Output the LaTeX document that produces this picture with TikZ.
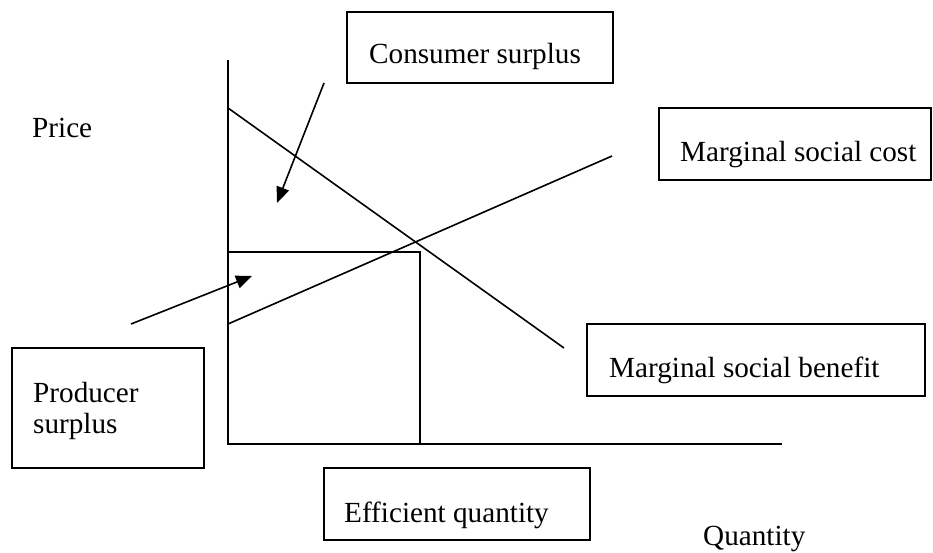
\documentclass[tikz,border=0pt]{standalone}
\usepackage{fontspec}
\setmainfont{Liberation Serif}
\usetikzlibrary{arrows.meta}
\begin{document}
\begin{tikzpicture}[x=1pt,y=-1pt,
  lbl/.style={font=\fontsize{29.2pt}{32pt}\selectfont, inner sep=0pt, anchor=base west},
  boxframe/.style={draw, line width=1.6pt},
  ln/.style={line width=1.6pt},
  arr/.style={line width=1.6pt, -{Triangle[length=16pt,width=13pt]}}]
\useasboundingbox (0,0) rectangle (933,553);

% axes
\coordinate (ytop) at (228,60);
\coordinate (orig) at (228,444);
\coordinate (xend) at (782,444);
\draw[ln] (ytop) -- (orig) -- (xend);

% curves
\coordinate (msb1) at (228,108);
\coordinate (msb2) at (564,348);
\coordinate (msc1) at (228,324);
\coordinate (msc2) at (612,156);
\draw[ln] (msb1) -- (msb2);
\draw[ln] (msc1) -- (msc2);

% efficient price/quantity rectangle
\coordinate (pe) at (228,252);
\coordinate (eq) at (420,252);
\coordinate (qe) at (420,444);
\draw[ln] (pe) -- (eq) -- (qe);

% boxes
\draw[boxframe] (347,12) rectangle (613,83);
\node[lbl] (cs) at (369,64) {Consumer surplus};

\draw[boxframe] (659,108) rectangle (931,180);
\node[lbl] (msc) at (680,162) {Marginal social cost};

\draw[boxframe] (587,324) rectangle (925,396);
\node[lbl] (msb) at (609,377) {Marginal social benefit};

\draw[boxframe] (12,348) rectangle (204,468);
\node[lbl] (ps1) at (33,402) {Producer};
\node[lbl] (ps2) at (33,433) {surplus};

\draw[boxframe] (324,468) rectangle (590,540);
\node[lbl] (eff) at (344,522) {Efficient quantity};

\node[lbl] (price) at (32,138) {Price};
\node[lbl] (qty) at (703,545) {Quantity};

% arrows
\coordinate (ca1) at (324,83);
\coordinate (ca2) at (277,203);
\draw[arr] (ca1) -- (ca2);
\coordinate (pa1) at (131,324);
\coordinate (pa2) at (252,276);
\draw[arr] (pa1) -- (pa2);
\end{tikzpicture}
\end{document}
